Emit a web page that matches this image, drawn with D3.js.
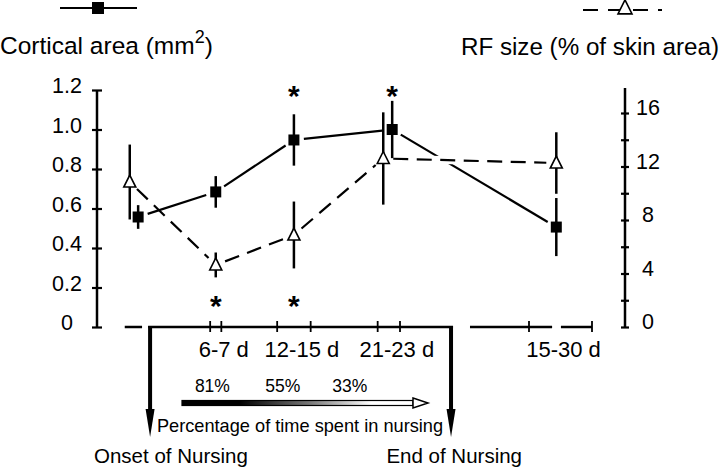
<!DOCTYPE html>
<html><head><meta charset="utf-8">
<script src="https://cdn.jsdelivr.net/npm/d3@7"></script>
<style>
body{margin:0;background:#fff}
svg{display:block;background:#fff}
text{font-family:"Liberation Sans",Arial,Helvetica,sans-serif;fill:#000}
</style>
</head><body>
<svg id="chart" width="720" height="467"></svg>
<script>
// ---------------- data ----------------
const groups      = ["P0", "6-7 d", "12-15 d", "21-23 d", "15-30 d"];
const ageSegment  = [0, 0, 0, 0, 1];            // 0 = nursing period, 1 = after break
const areaAge     = [-0.45, 6.5, 13.5, 22.3, 21.5];
const rfAge       = [-1.2, 6.5, 13.5, 21.5, 21.5];
const areaMean    = [0.557, 0.684, 0.947, 1.00, 0.506];
const areaErr     = [0.060, 0.080, 0.130, 0.145, 0.147];
const rfMean      = [10.84, 4.64, 6.88, 12.6, 12.26];
const rfErr       = [2.8, 0.93, 2.5, 3.45, 2.3];
const areaSig     = [false, false, true, true, false];
const rfSig       = [false, true, true, false, false];
const dayTicks    = [6, 7, 12, 15, 21, 23];
const adultTicks  = [15, 30];
const ageRanges   = [[6, 7], [12, 15], [21, 23]];
const ageLabels   = ["6-7 d", "12-15 d", "21-23 d"];
const adultRange  = [15, 30];
const adultLabel  = "15-30 d";
const leftTicks   = [0, 0.2, 0.4, 0.6, 0.8, 1.0, 1.2];
const leftLabels  = ["0", "0.2", "0.4", "0.6", "0.8", "1.0", "1.2"];
const rightTicks  = [0, 2, 4, 6, 8, 10, 12, 14, 16];
const rightLabels = [0, 4, 8, 12, 16];
const nursingPct  = ["81%", "55%", "33%"];
const pctDay      = [6.2, 12.5, 18.5];
const onsetDay = 0.62, endDay = 27.57;

// ---------------- scales ----------------
const svg = d3.select("#chart");
const yL = d3.scaleLinear().domain([0, 1.2]).range([327, 90]);
const yR = d3.scaleLinear().domain([0, 16]).range([327, 113]);
const x0 = d3.scaleLinear().domain([-1, 23]).range([132, 400]);
const x1 = d3.scaleLinear().domain([15, 30]).range([529, 592]);
const xs = [x0, x1];
const Y0 = yL(0);

const area = groups.map((g, i) => ({x: xs[ageSegment[i]](areaAge[i]), y: yL(areaMean[i]),
  y1: yL(areaMean[i] + areaErr[i]), y2: yL(areaMean[i] - areaErr[i]), sig: areaSig[i], seg: ageSegment[i]}));
const rf = groups.map((g, i) => ({x: xs[ageSegment[i]](rfAge[i]), y: yR(rfMean[i]),
  y1: yR(rfMean[i] + rfErr[i]), y2: yR(rfMean[i] - rfErr[i]), sig: rfSig[i], seg: ageSegment[i]}));

// ---------------- titles & legend ----------------
const t1 = svg.append("text").attr("x", 0).attr("y", 54).attr("font-size", 24.5);
t1.append("tspan").text("Cortical area (mm");
t1.append("tspan").attr("font-size", 18).attr("dy", -11).text("2");
t1.append("tspan").attr("dy", 11).text(")");
svg.append("text").attr("x", 719).attr("y", 55).attr("font-size", 24.2)
  .attr("text-anchor", "end").text("RF size (% of skin area)");

svg.append("line").attr("x1", 60).attr("x2", 137).attr("y1", 8).attr("y2", 8)
  .attr("stroke", "#000").attr("stroke-width", 2);
svg.append("rect").attr("x", 92).attr("y", 2).attr("width", 12).attr("height", 12).attr("fill", "#000");
svg.append("line").attr("x1", 583).attr("x2", 662).attr("y1", 10).attr("y2", 10)
  .attr("stroke", "#000").attr("stroke-width", 2).attr("stroke-dasharray", "15,10");
const triPath = (cx, cy, s) => `M${cx},${cy - s * 0.58}L${cx + s / 2},${cy + s * 0.42}L${cx - s / 2},${cy + s * 0.42}Z`;
svg.append("path").attr("d", triPath(625, 8, 14)).attr("fill", "#fff").attr("stroke", "#000").attr("stroke-width", 1.6);

// ---------------- left axis ----------------
const gL = svg.append("g").attr("transform", "translate(97,0)")
  .call(d3.axisLeft(yL).tickValues(leftTicks).tickSize(5).tickFormat((d, i) => leftLabels[i]));
gL.select(".domain").remove();
gL.append("line").attr("y1", Y0 + 1).attr("y2", yL(1.2)).attr("stroke", "#000").attr("stroke-width", 2.5);
gL.selectAll(".tick line").attr("x1", 5).attr("x2", -5).attr("stroke-width", 2.2);
gL.selectAll(".tick text").attr("x", -30).attr("dy", null).attr("y", 2.5)
  .attr("text-anchor", "middle").attr("font-size", 21.5).attr("font-family", null);

// ---------------- right axis ----------------
const gR = svg.append("g").attr("transform", "translate(625,0)")
  .call(d3.axisRight(yR).tickValues(rightTicks).tickSize(4)
    .tickFormat(d => rightLabels.includes(d) ? String(d) : ""));
gR.select(".domain").remove();
gR.append("line").attr("y1", Y0 + 1).attr("y2", yR(17.87)).attr("stroke", "#000").attr("stroke-width", 2.5);
gR.selectAll(".tick line").attr("x1", -4).attr("x2", 4).attr("stroke-width", 2.2);
gR.selectAll(".tick text").attr("x", 23).attr("dy", null).attr("y", 1.5)
  .attr("text-anchor", "middle").attr("font-size", 21.5).attr("font-family", null);

// ---------------- bottom (broken) axis ----------------
const ax = svg.append("g").attr("stroke", "#000").attr("fill", "none");
const hseg = (a, b) => ax.append("line").attr("x1", a).attr("x2", b).attr("y1", Y0).attr("y2", Y0).attr("stroke-width", 2.5);
hseg(x0(-1.65), x0(-0.1));
hseg(x0(onsetDay) - 2, x0(endDay) + 2);
hseg(x1(0.95), x1(20.5));
hseg(x1(22.6), x1(30));
dayTicks.forEach(d => ax.append("line").attr("x1", x0(d)).attr("x2", x0(d)).attr("y1", Y0 - 6).attr("y2", Y0 + 5).attr("stroke-width", 1.8));
adultTicks.forEach(d => ax.append("line").attr("x1", x1(d)).attr("x2", x1(d)).attr("y1", Y0 - 6).attr("y2", Y0 + 5).attr("stroke-width", 1.8));
ageRanges.forEach((r, i) => svg.append("text").attr("x", x0((r[0] + r[1]) / 2) + 8).attr("y", 357)
  .attr("text-anchor", "middle").attr("font-size", 22).text(ageLabels[i]));
svg.append("text").attr("x", x1((adultRange[0] + adultRange[1]) / 2) + 3).attr("y", 357)
  .attr("text-anchor", "middle").attr("font-size", 22).text(adultLabel);

// nursing arrows
[onsetDay, endDay].forEach(d => {
  const x = x0(d);
  svg.append("line").attr("x1", x).attr("x2", x).attr("y1", Y0 - 1).attr("y2", 412)
    .attr("stroke", "#000").attr("stroke-width", 4);
  svg.append("path").attr("d", `M${x - 4.5},409L${x + 4.5},409L${x},437Z`).attr("fill", "#000");
});
svg.append("text").attr("x", 94).attr("y", 463).attr("font-size", 20.5).text("Onset of Nursing");
svg.append("text").attr("x", 522).attr("y", 463).attr("font-size", 20.5).attr("text-anchor", "end").text("End of Nursing");

// gradient arrow
const grad = svg.append("defs").append("linearGradient").attr("id", "g1")
  .attr("x1", "0%").attr("x2", "100%").attr("y1", "0%").attr("y2", "0%");
grad.append("stop").attr("offset", "0%").attr("stop-color", "#000");
grad.append("stop").attr("offset", "25%").attr("stop-color", "#000");
grad.append("stop").attr("offset", "55%").attr("stop-color", "#777");
grad.append("stop").attr("offset", "82%").attr("stop-color", "#fff");
grad.append("stop").attr("offset", "100%").attr("stop-color", "#fff");
svg.append("rect").attr("x", 182).attr("y", 400.5).attr("width", 231).attr("height", 5)
  .attr("fill", "url(#g1)").attr("stroke", "#000").attr("stroke-width", 1.2);
svg.append("path").attr("d", "M413,398L428,403L413,408Z").attr("fill", "#fff").attr("stroke", "#000").attr("stroke-width", 1.5);
nursingPct.forEach((p, i) => svg.append("text").attr("x", x0(pctDay[i])).attr("y", 392)
  .attr("text-anchor", "middle").attr("font-size", 17.5).text(p));
svg.append("text").attr("x", 300).attr("y", 432).attr("text-anchor", "middle").attr("font-size", 18.2)
  .text("Percentage of time spent in nursing");

// ---------------- series ----------------
const trim = (a, b, t) => {
  const dx = b.x - a.x, dy = b.y - a.y, L = Math.hypot(dx, dy);
  return [a.x + dx / L * t, a.y + dy / L * t, b.x - dx / L * t, b.y - dy / L * t];
};
const gLines = svg.append("g");
d3.pairs(area).forEach(([a, b]) => {
  const [ax1, ay1, ax2, ay2] = trim(a, b, 10);
  gLines.append("line").attr("x1", ax1).attr("y1", ay1).attr("x2", ax2).attr("y2", ay2)
    .attr("stroke", "#000").attr("stroke-width", 2.2);
});
d3.pairs(rf).forEach(([a, b]) => {
  const [ax1, ay1, ax2, ay2] = trim(a, b, 10);
  if (a.seg !== b.seg) gLines.append("line").attr("x1", ax1).attr("y1", ay1).attr("x2", ax2).attr("y2", ay2)
    .attr("stroke", "#fff").attr("stroke-width", 8);
  gLines.append("line").attr("x1", ax1).attr("y1", ay1).attr("x2", ax2).attr("y2", ay2)
    .attr("stroke", "#000").attr("stroke-width", 2.2).attr("stroke-dasharray", "15,8.5");
});

// error bars
const gErr = svg.append("g").attr("stroke", "#000").attr("stroke-width", 2.5);
area.concat(rf).forEach(p => gErr.append("line").attr("x1", p.x).attr("x2", p.x).attr("y1", p.y1).attr("y2", p.y2));

// markers
svg.append("g").selectAll("rect").data(area).join("rect")
  .attr("x", d => d.x - 5.5).attr("y", d => d.y - 5.5).attr("width", 11).attr("height", 11).attr("fill", "#000");
svg.append("g").selectAll("path").data(rf).join("path")
  .attr("d", d => triPath(d.x, d.y, 12)).attr("fill", "#fff").attr("stroke", "#000").attr("stroke-width", 1.6);

// significance stars
const starTop = 87, starBottom = 297;
svg.append("g").selectAll("text").data(area.filter(d => d.sig)).join("text")
  .attr("x", d => d.x).attr("y", starTop + 19).attr("text-anchor", "middle").attr("font-size", 30)
  .attr("font-weight", "bold").text("*");
svg.append("g").selectAll("text").data(rf.filter(d => d.sig)).join("text")
  .attr("x", d => d.x).attr("y", starBottom + 19).attr("text-anchor", "middle").attr("font-size", 30)
  .attr("font-weight", "bold").text("*");
</script>
</body></html>
